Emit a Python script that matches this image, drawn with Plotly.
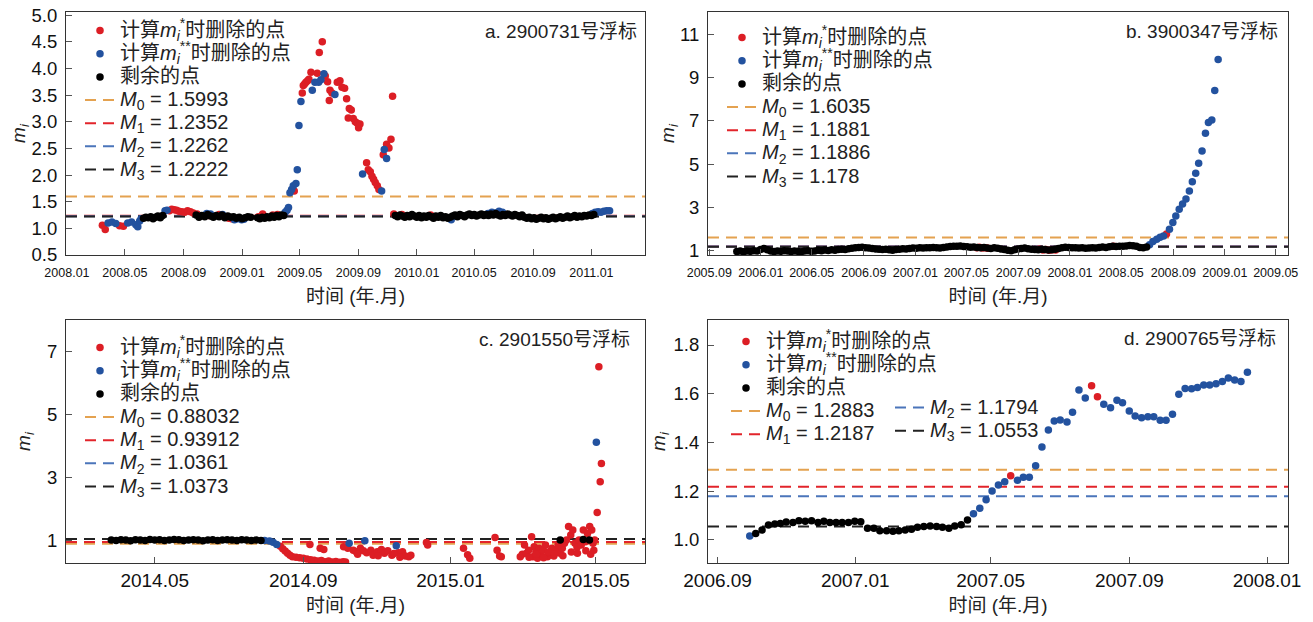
import plotly.graph_objects as go
import pandas as pd

FONT = "Liberation Sans, Arial, Noto Sans CJK SC, sans-serif"
RED = "#dc1e25"
BLUE = "#23529f"
BLACK = "#000000"
LINE_COLORS = ["#e4a250", "#e2242b", "#4b75ba", "#222222"]

# ---------------- panel a : float 2900731 (days since a_base) ----------------
a_base = "2008-01-01"
a_range = ["2007-12-30", "2011-04-23"]
a_M = [1.5993, 1.2352, 1.2262, 1.2222]
a_red_day = [74, 80, 110, 118, 214, 219, 224, 229, 234, 240, 246, 252, 258, 264, 272, 296, 318, 338, 344,
             400, 409, 430, 440,
             475, 491.8, 493.9, 496.6, 499.4, 502.9, 505.7, 509.9, 523.1, 527.3, 533.6, 539.8, 544.7, 548.2,
             549.6, 553.8, 564.9, 570.5, 574.7, 580.2, 584.4, 587.9, 590, 594.2, 598.3, 602.5, 606.7, 609.5,
             612.3, 626.2, 629.7, 633.9, 637.4, 640.8, 644.3, 648.5, 652, 661, 668, 672.9, 677.1, 680.5,
             683, 700, 760]
a_red_val = [1.06, 0.98, 1.05, 1.04, 1.33, 1.36, 1.35, 1.34, 1.32, 1.31, 1.30, 1.33, 1.31, 1.29, 1.27, 1.24, 1.26, 1.19, 1.18,
             1.22, 1.27, 1.25, 1.26,
             1.70, 3.54, 3.68, 3.71, 3.74, 3.77, 3.80, 3.93, 3.91, 4.30, 4.50, 3.86, 3.75, 3.40,
             3.59, 3.54, 3.74, 3.77, 3.65, 3.63, 3.43, 3.07, 3.25, 3.22, 3.06, 3.00, 2.97, 2.89,
             2.96, 2.23, 2.10, 2.06, 1.98, 1.92, 1.86, 1.80, 1.73, 2.38, 2.58, 2.51, 2.67, 3.48,
             1.27, 1.26, 1.25]
a_blue_day = [86, 94, 102, 127, 135, 144, 148, 152, 155, 205, 209, 292, 300, 325, 350, 356, 365, 370,
              456, 460, 463,
              466, 469.5, 473, 478.5, 481.3, 484.8, 489, 512.7, 518.2, 525.9, 530.8, 537, 560, 617.8, 657.6,
              663.1, 668,
              803, 880, 888, 895, 903, 910, 1098, 1104, 1110, 1116, 1122, 1128, 1134]
a_blue_val = [1.10, 1.12, 1.09, 1.10, 1.12, 1.07, 1.03, 1.14, 1.18, 1.33, 1.34, 1.28, 1.27, 1.26, 1.16, 1.18, 1.16, 1.17,
              1.30, 1.34, 1.39,
              1.67, 1.73, 1.80, 1.84, 2.10, 2.93, 3.38, 3.59, 3.74, 3.74, 3.79, 3.90, 3.51, 2.02, 1.70,
              2.48, 2.31,
              1.16, 1.28, 1.30, 1.29, 1.32, 1.30, 1.28, 1.30, 1.31, 1.30, 1.32, 1.33, 1.33]
a_black_day = [160, 165, 170, 175, 180, 185, 190, 195, 200,
               270, 276, 282, 288, 294, 300, 306, 312, 318, 324, 330, 336, 342, 348, 354, 360, 366, 372, 378, 384,
               398, 403, 408, 413, 418, 423, 428, 433, 438, 443, 448, 453,
               686, 691, 696, 701, 706, 711, 716, 721, 726, 731, 736, 741, 746, 751, 756, 761, 766, 771, 776,
               781, 786, 791, 796, 801, 806, 811, 816, 821, 826, 831, 836, 841, 846, 851, 856, 861, 866, 871,
               876, 881, 886, 891, 896, 901, 906, 911, 916, 921, 926, 931, 936, 941, 946, 951, 956, 961, 966,
               971, 976, 981, 986, 991, 996, 1001, 1006, 1011, 1016, 1021, 1026, 1031, 1036, 1041, 1046, 1051,
               1056, 1061, 1066, 1071, 1076, 1081, 1086, 1091, 1096, 1101]
a_black_val = [1.19, 1.21, 1.20, 1.22, 1.18, 1.21, 1.23, 1.20, 1.24,
               1.25, 1.21, 1.24, 1.22, 1.26, 1.23, 1.21, 1.24, 1.22, 1.25, 1.20, 1.23, 1.21, 1.22, 1.19, 1.21, 1.18, 1.20, 1.22, 1.21,
               1.20, 1.18, 1.21, 1.19, 1.22, 1.20, 1.23, 1.21, 1.24, 1.22, 1.25, 1.24,
               1.24, 1.22, 1.25, 1.23, 1.21, 1.24, 1.22, 1.26, 1.23, 1.21, 1.24, 1.20, 1.23, 1.21, 1.24, 1.22, 1.19, 1.23, 1.21,
               1.24, 1.20, 1.22, 1.19, 1.21, 1.23, 1.25, 1.22, 1.26, 1.24, 1.22, 1.25, 1.27, 1.24, 1.26, 1.23, 1.25, 1.27, 1.24,
               1.26, 1.24, 1.27, 1.25, 1.28, 1.25, 1.23, 1.26, 1.24, 1.27, 1.25, 1.23, 1.26, 1.24, 1.22, 1.25, 1.21, 1.19, 1.21,
               1.18, 1.20, 1.17, 1.19, 1.21, 1.18, 1.20, 1.17, 1.19, 1.21, 1.18, 1.20, 1.22, 1.19, 1.21, 1.23, 1.20,
               1.22, 1.24, 1.21, 1.23, 1.22, 1.24, 1.23, 1.25, 1.24, 1.26]

# ---------------- panel b : float 3900347 (days since b_base) ----------------
b_base = "2005-09-01"
b_range = ["2005-08-29", "2009-05-30"]
b_M = [1.6035, 1.1881, 1.1886, 1.178]
b_red_day = [632, 638, 645, 652, 658, 780, 788, 795, 803, 810, 818, 955, 1080]
b_red_val = [1.13, 1.16, 1.12, 1.14, 1.11, 1.06, 1.03, 1.05, 1.02, 1.04, 1.03, 1.21, 1.77]
b_blue_day = [1040, 1048, 1057, 1065, 1073, 1087, 1095, 1102, 1110, 1118, 1126, 1134, 1141, 1149, 1156, 1164,
              1172, 1179, 1187, 1194, 1202]
b_blue_val = [1.27, 1.42, 1.53, 1.62, 1.68, 1.99, 2.30, 2.60, 2.91, 3.16, 3.39, 3.76, 4.19, 4.58, 5.04, 5.61,
              6.43, 6.92, 7.04, 8.40, 9.84]
b_black_day = [65, 73, 81, 89, 97, 105, 113, 121, 129, 137, 145, 153, 161, 169, 177, 185, 193, 201, 209, 217,
               225, 233, 241, 249, 257, 265, 273, 281, 289, 297, 305, 313, 321, 329, 337, 345, 353, 361, 369, 377,
               385, 393, 401, 409, 417, 425, 433, 441, 449, 457, 465, 473, 481, 489, 497, 505, 513, 521, 529, 537,
               545, 553, 561, 569, 577, 585, 593, 601, 609, 617, 625, 633, 641, 649, 657, 665, 673, 681, 689, 697,
               705, 713, 721, 729, 737, 745, 753, 761, 769, 777, 785, 793, 801, 809, 817, 825, 833, 841, 849, 857,
               865, 873, 881, 889, 897, 905, 913, 921, 929, 937, 945, 953, 961, 969, 977, 985, 993, 1001, 1009,
               1017, 1025, 1033]
b_black_val = [0.96, 0.98, 0.95, 0.99, 0.97, 1.00, 0.98, 1.05, 1.10, 1.04, 0.98, 0.96, 0.99, 0.97, 1.00, 0.98, 0.96, 0.99, 0.97, 0.95,
               0.98, 1.00, 0.97, 0.99, 1.02, 1.00, 1.03, 1.01, 1.04, 1.02, 1.05, 1.07, 1.05, 1.09, 1.11, 1.13, 1.15, 1.16, 1.14, 1.12,
               1.10, 1.08, 1.06, 1.05, 1.07, 1.04, 1.02, 1.05, 1.07, 1.09, 1.08, 1.10, 1.12, 1.11, 1.13, 1.12, 1.14, 1.13, 1.15, 1.13,
               1.12, 1.15, 1.17, 1.19, 1.21, 1.20, 1.22, 1.19, 1.18, 1.16, 1.17, 1.15, 1.13, 1.15, 1.12, 1.10, 1.13, 1.11, 1.08, 1.05,
               1.02, 1.00, 1.04, 1.08, 1.10, 1.12, 1.09, 1.07, 1.05, 1.04, 1.06, 1.05, 1.03, 1.04, 1.06, 1.10, 1.14, 1.16, 1.15, 1.13,
               1.14, 1.12, 1.13, 1.11, 1.12, 1.14, 1.12, 1.15, 1.17, 1.15, 1.18, 1.20, 1.19, 1.21, 1.20, 1.22, 1.24, 1.23, 1.21,
               1.15, 1.13, 1.17]

# ---------------- panel c : float 2901550 (days since c_base) ----------------
c_base = "2014-05-01"
c_range = ["2014-02-16 12:00", "2015-06-11"]
c_M = [0.88032, 0.93912, 1.0361, 1.0373]
c_red_day = [104, 106, 108, 110, 112, 114, 117, 120, 123, 126, 129, 132, 135, 138, 141, 144, 147, 150, 153, 156, 158,
             128.5, 137, 140,
             156.4, 159.9, 164.4, 166.8, 170.3, 172.8, 175.5, 179, 180.8, 184.3, 187.7, 190.2, 193, 196.4, 201.7,
             205.2, 207.6, 210.4, 212.1, 168, 185, 198, 203,
             225, 226, 255.7, 259.1, 260.9, 281.8, 283.5, 285.6, 287,
             302.7, 304.4, 306.2, 307.9, 309.6, 312.1, 313.1, 314.2, 315.6, 317, 318.4, 320.1, 321.8, 323.6, 325.3,
             327.1, 328.8, 330.5, 332.3, 334, 335.8, 337.5, 339.3, 341, 342.7, 344.5, 346.2, 348, 349.7, 351.4,
             353.2, 354.9, 356.7, 358.4, 360.2, 361.9, 362.9, 363.6, 364.3,
             310, 316, 322, 326, 331, 338, 345, 350, 357, 361,
             366.4, 367.8, 368.9, 369.9]
c_red_val = [0.80, 0.72, 0.65, 0.58, 0.52, 0.47, 0.45, 0.44, 0.42, 0.40, 0.37, 0.36, 0.33, 0.35, 0.31, 0.33, 0.30, 0.32, 0.29, 0.31, 0.30,
             0.86, 0.74, 0.70,
             0.79, 0.74, 0.68, 0.63, 0.74, 0.66, 0.60, 0.68, 0.52, 0.63, 0.70, 0.58, 0.66, 0.52, 0.60,
             0.63, 0.49, 0.47, 0.52, 0.55, 0.50, 0.57, 0.45,
             0.92, 0.84, 0.74, 0.53, 0.42, 1.08, 0.68, 0.49, 0.47,
             0.47, 0.55, 0.84, 0.58, 0.68, 1.11, 0.47, 0.79, 0.63, 0.42, 0.74, 0.52, 0.68, 0.84, 0.47,
             0.60, 0.74, 0.49, 0.68, 0.84, 0.58, 0.74, 0.90, 1.00, 1.43, 1.16, 1.32, 0.90, 0.77, 1.00,
             0.84, 1.32, 0.95, 1.21, 1.43, 1.32, 0.90, 0.68, 1.00,
             0.45, 0.55, 0.44, 0.62, 0.56, 0.50, 0.62, 0.58, 0.66, 0.55,
             1.88, 6.52, 2.86, 3.44]
c_blue_day = [91, 95, 98, 101, 161, 174, 200, 365.7]
c_blue_val = [0.99, 0.97, 0.93, 0.86, 0.90, 0.98, 0.82, 4.12]
c_black_day = [-36, -32, -28, -24, -20, -16, -12, -8, -4, 0, 4, 8, 12, 16, 20, 24, 28, 32, 36, 40, 44, 48, 52,
               56, 60, 64, 68, 72, 76, 80, 84, 88, 335.8, 354.9, 360]
c_black_val = [1.00, 0.99, 1.01, 1.00, 0.98, 1.01, 1.00, 0.99, 1.02, 1.00, 1.01, 0.99, 1.00, 1.02, 1.01, 0.99,
               1.00, 1.01, 1.00, 0.98, 1.00, 1.01, 0.99, 1.00, 1.01, 1.00, 0.99, 1.01, 1.00, 0.99, 1.00, 0.99,
               1.00, 1.02, 1.00]

# ---------------- panel d : float 2900765 (days since d_base) ----------------
d_base = "2006-09-01"
d_range = ["2006-08-23 12:00", "2008-01-19 14:00"]
d_M = [1.2883, 1.2187, 1.1794, 1.0553]
d_red_day = [259.8, 331.5, 336.7]
d_red_val = [1.264, 1.633, 1.588]
d_blue_day = [28.5, 226.8, 232.4, 238, 243.3, 248.9, 254.5, 265.8, 271, 276.3, 281.9, 287.5, 293.2, 298.4, 303.7,
              309.7, 314.6, 320.3, 325.9, 342.3, 348.3, 354, 358.9, 364.9, 370.1, 375.8, 381.4, 386.6, 392.3,
              397.5, 403.2, 408.8, 414.4, 420.1, 425.3, 430.9, 436.2, 441.8, 447.4, 452.7, 458.3, 463.9, 469.6]
d_blue_val = [1.016, 1.108, 1.130, 1.165, 1.201, 1.226, 1.239, 1.245, 1.257, 1.257, 1.305, 1.382, 1.451, 1.488, 1.492,
              1.484, 1.524, 1.615, 1.583, 1.557, 1.543, 1.573, 1.563, 1.529, 1.509, 1.502, 1.506, 1.506, 1.491,
              1.491, 1.516, 1.598, 1.622, 1.621, 1.626, 1.636, 1.636, 1.641, 1.650, 1.665, 1.656, 1.650, 1.688]
d_black_day = [33.8, 39.4, 45.1, 50.7, 55.6, 60.8, 66.8, 72.1, 77.7, 83.3, 89, 94.2, 99.5, 105, 110.4, 116, 121.6,
               126.9, 132.9, 138.5, 143.8, 149.8, 155.4, 160.7, 166.3, 171.9, 177.2, 182.8, 188.4, 194.1, 199.3,
               205, 210.2, 215.9, 221.5]
d_black_val = [1.027, 1.041, 1.062, 1.066, 1.068, 1.074, 1.072, 1.079, 1.077, 1.079, 1.072, 1.077, 1.072, 1.072,
               1.072, 1.072, 1.077, 1.075, 1.048, 1.048, 1.038, 1.038, 1.036, 1.038, 1.041, 1.044, 1.052, 1.055,
               1.057, 1.055, 1.052, 1.048, 1.057, 1.063, 1.082]

# ---------------- text ----------------
titles = ["a. 2900731号浮标", "b. 3900347号浮标", "c. 2901550号浮标", "d. 2900765号浮标"]
lab_red = "计算<i>m</i><sub><i>i</i></sub><sup>*</sup>时删除的点"
lab_blue = "计算<i>m</i><sub><i>i</i></sub><sup>**</sup>时删除的点"
lab_black = "剩余的点"
x_title = "时间 (年.月)"
y_title = "<i>m<sub>i</sub></i>"

# ---------------- geometry ----------------
# page body adds an 8 px offset; targets below are in window pixels
W, H = 1313, 622
OFF = 8
ML, MR, MT, MB = 58, 33, 4, 67
PW, PH = W - ML - MR, H - MT - MB


def px(x):
    return (x - OFF - ML) / PW


def py(y):
    return (H - MB - (y - OFF)) / PH


def dates(base, days):
    return list(pd.to_datetime(base) + pd.to_timedelta(days, unit="D"))


def span(t, size=20):
    return f'<span style="font-size:{size}px">{t}</span>'


fig = go.Figure()

panels = [
    dict(ax="", base=a_base, rng=a_range, M=a_M, red=(a_red_day, a_red_val), blue=(a_blue_day, a_blue_val),
         black=(a_black_day, a_black_val), lg=["legend"] * 7),
    dict(ax="2", base=b_base, rng=b_range, M=b_M, red=(b_red_day, b_red_val), blue=(b_blue_day, b_blue_val),
         black=(b_black_day, b_black_val), lg=["legend2"] * 7),
    dict(ax="3", base=c_base, rng=c_range, M=c_M, red=(c_red_day, c_red_val), blue=(c_blue_day, c_blue_val),
         black=(c_black_day, c_black_val), lg=["legend3"] * 7),
    dict(ax="4", base=d_base, rng=d_range, M=d_M, red=(d_red_day, d_red_val), blue=(d_blue_day, d_blue_val),
         black=(d_black_day, d_black_val), lg=["legend4"] * 5 + ["legend5"] * 2),
]

for p in panels:
    xa, ya = "x" + p["ax"], "y" + p["ax"]
    lg = p["lg"]
    xr = [pd.to_datetime(v) for v in p["rng"]]
    for k, m in enumerate(p["M"]):
        fig.add_trace(go.Scatter(
            x=xr, y=[m, m], mode="lines", xaxis=xa, yaxis=ya,
            line=dict(color=LINE_COLORS[k], width=2, dash="11px,7px"),
            name=span(f"<i>M</i><sub>{k}</sub> = {m}"), legend=lg[3 + k], legendrank=10 + k))
    for key, col, lab, rank in [("red", RED, lab_red, 1), ("blue", BLUE, lab_blue, 2), ("black", BLACK, lab_black, 3)]:
        d, v = p[key]
        fig.add_trace(go.Scatter(
            x=dates(p["base"], d), y=v, mode="markers", xaxis=xa, yaxis=ya,
            marker=dict(color=col, size=7.5, line=dict(width=0)),
            name=span(lab), legend=lg[rank - 1], legendrank=rank))

axis_common = dict(showline=True, linecolor="#333333", linewidth=1.2, mirror=True, ticks="inside",
                   ticklen=6, tickwidth=1.2, tickcolor="#555555", showgrid=False, zeroline=False,
                   ticklabeloverflow="allow")

xdom_l, xdom_r = [0, (645 - 66) / PW], [(708 - 66) / PW, 1]
ydom_t, ydom_b = [(563 - 255) / PH, 1], [0, (563 - 320) / PH]

small_x = dict(family=FONT, size=12.5, color="#111")
big_x = dict(family=FONT, size=19, color="#111")
yfont = dict(family=FONT, size=18.5, color="#111")
tfont = dict(family=FONT, size=19, color="#222")

fig.update_layout(
    xaxis=dict(domain=xdom_l, anchor="y", type="date", range=a_range, tick0="2008-01-01", dtick="M4",
               tickformat="%Y.%m", tickfont=small_x, ticklabelstandoff=6,
               title=dict(text=x_title, font=tfont, standoff=10), **axis_common),
    yaxis=dict(domain=ydom_t, anchor="x", range=[0.5, 5.06], tick0=0.5, dtick=0.5, tickformat=".1f",
               tickfont=yfont, ticklabelstandoff=4, title=dict(text=y_title, font=tfont, standoff=9), **axis_common),
    xaxis2=dict(domain=xdom_r, anchor="y2", type="date", range=b_range, tick0="2005-09-01", dtick="M4",
                tickformat="%Y.%m", tickfont=small_x, ticklabelstandoff=6,
                title=dict(text=x_title, font=tfont, standoff=10), **axis_common),
    yaxis2=dict(domain=ydom_t, anchor="x2", range=[0.8, 12.03], tick0=1, dtick=2, tickfont=yfont,
                ticklabelstandoff=4, title=dict(text=y_title, font=tfont, standoff=0), **axis_common),
    xaxis3=dict(domain=xdom_l, anchor="y3", type="date", range=c_range, tick0="2014-01-01", dtick="M4",
                tickformat="%Y.%m", tickfont=big_x, ticklabelstandoff=0,
                title=dict(text=x_title, font=tfont, standoff=8), **axis_common),
    yaxis3=dict(domain=ydom_b, anchor="x3", range=[0.27, 8.01], tick0=1, dtick=2, tickfont=yfont,
                ticklabelstandoff=4, title=dict(text=y_title, font=tfont, standoff=11), **axis_common),
    xaxis4=dict(domain=xdom_r, anchor="y4", type="date", range=d_range, tick0="2006-09-01", dtick="M4",
                tickformat="%Y.%m", tickfont=big_x, ticklabelstandoff=0,
                title=dict(text=x_title, font=tfont, standoff=8), **axis_common),
    yaxis4=dict(domain=ydom_b, anchor="x4", range=[0.9056, 1.9026], dtick=0.2, tickformat=".1f", tickfont=yfont,
                ticklabelstandoff=4, title=dict(text=y_title, font=tfont, standoff=2), **axis_common),
)

leg_common = dict(font=dict(family=FONT, size=15.5, color="#222"), bgcolor="rgba(0,0,0,0)",
                  borderwidth=0, xanchor="left", yanchor="top", tracegroupgap=0)
fig.update_layout(
    legend=dict(x=px(80), y=py(14), **leg_common),
    legend2=dict(x=px(722), y=py(21), **leg_common),
    legend3=dict(x=px(80), y=py(331), **leg_common),
    legend4=dict(x=px(726), y=py(325), **leg_common),
    legend5=dict(x=px(890), y=py(391), **leg_common),
)

ann = []
for t, (xp, yp) in zip(titles, [(639, 32), (1280, 32), (632, 339), (1278, 338)]):
    ann.append(dict(text=t, x=px(xp), y=py(yp), xref="paper", yref="paper", xanchor="right", yanchor="middle",
                    showarrow=False, font=dict(family=FONT, size=19, color="#222")))
fig.update_layout(annotations=ann)

fig.update_layout(width=W, height=H, margin=dict(l=ML, r=MR, t=MT, b=MB, autoexpand=False),
                  paper_bgcolor="white", plot_bgcolor="white", font=dict(family=FONT))

fig.write_html("out.html")
